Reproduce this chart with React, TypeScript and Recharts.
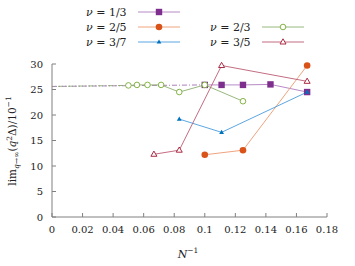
import { LineChart, Line, XAxis, YAxis } from "recharts";

// N^-1 values and limits per filling factor
const nu13X = [0.1, 0.111, 0.125, 0.143, 0.167];
const nu13Y = [25.9, 25.9, 25.9, 26.0, 24.5];
const nu25X = [0.1, 0.125, 0.167];
const nu25Y = [12.2, 13.1, 29.7];
const nu37X = [0.0833, 0.111, 0.167];
const nu37Y = [19.2, 16.6, 24.5];
const nu23X = [0.05, 0.0556, 0.0625, 0.0714, 0.0833, 0.1, 0.125];
const nu23Y = [25.8, 25.9, 25.9, 25.9, 24.5, 25.9, 22.7];
const nu35X = [0.0667, 0.0833, 0.111, 0.167];
const nu35Y = [12.3, 13.1, 29.7, 26.6];
// extrapolations to N^-1 = 0
const ext13X = [0, 0.1];
const ext13Y = [25.6, 25.9];
const ext23X = [0, 0.05];
const ext23Y = [25.6, 25.8];

const xTicks = [0, 0.02, 0.04, 0.06, 0.08, 0.1, 0.12, 0.14, 0.16, 0.18];
const yTicks = [0, 5, 10, 15, 20, 25, 30];

const zip = (xs: number[], ys: number[]) => xs.map((x, i) => ({ x, y: ys[i] }));

const FONT = "'DejaVu Serif', serif";
const AXIS = "#808080";

type Marker = "square" | "circle" | "triangle" | "ocircle" | "otriangle";

const drawMarker = (kind: Marker, cx: number, cy: number, color: string, key?: any) => {
    if (kind === "square")
        return <rect key={key} x={cx - 3.2} y={cy - 3.2} width={6.4} height={6.4} fill={color} />;
    if (kind === "circle")
        return <circle key={key} cx={cx} cy={cy} r={3.3} fill={color} />;
    if (kind === "ocircle")
        return <circle key={key} cx={cx} cy={cy} r={2.8} fill="white" stroke={color} strokeWidth={0.9} />;
    if (kind === "triangle")
        return <path key={key} d={`M${cx},${cy - 2.6} L${cx + 2.4},${cy + 1.6} L${cx - 2.4},${cy + 1.6} Z`} fill={color} />;
    return (
        <path key={key} d={`M${cx},${cy - 3.2} L${cx + 3},${cy + 2} L${cx - 3},${cy + 2} Z`}
            fill="white" stroke={color} strokeWidth={0.9} />
    );
};

const series = [
    { name: "1/3", xs: nu13X, ys: nu13Y, line: "#b07cc0", color: "#7E2F8E", marker: "square" as Marker },
    { name: "2/5", xs: nu25X, ys: nu25Y, line: "#ec9a70", color: "#D95319", marker: "circle" as Marker },
    { name: "3/7", xs: nu37X, ys: nu37Y, line: "#4a9cdc", color: "#0072BD", marker: "triangle" as Marker },
    { name: "2/3", xs: nu23X, ys: nu23Y, line: "#8cb070", color: "#77AC30", marker: "ocircle" as Marker },
    { name: "3/5", xs: nu35X, ys: nu35Y, line: "#bc5c74", color: "#A2142F", marker: "otriangle" as Marker },
];

// legend slots: [column, row]
const legendSlots = [[0, 0], [0, 1], [0, 2], [1, 1], [1, 2]];

const tickStyle = { fill: "#222", fontSize: 10, fontFamily: FONT };

export default function App() {
    return (
        <div style={{ position: "absolute", left: 0, top: 0, width: 355, height: 266, background: "white", fontFamily: FONT }}>
            <LineChart width={355} height={266} margin={{ top: 64, right: 28, left: 0, bottom: 0 }}>
                <XAxis
                    type="number"
                    dataKey="x"
                    domain={[0, 0.18]}
                    ticks={xTicks}
                    allowDataOverflow
                    height={49}
                    tickSize={-4}
                    tickMargin={13}
                    stroke={AXIS}
                    tick={tickStyle}
                    tickFormatter={(v) => String(v)}
                />
                <XAxis
                    xAxisId="top"
                    orientation="top"
                    type="number"
                    dataKey="x"
                    domain={[0, 0.18]}
                    ticks={xTicks}
                    height={0}
                    tickSize={-4}
                    stroke={AXIS}
                    tickFormatter={() => ""}
                />
                <YAxis
                    type="number"
                    domain={[0, 30]}
                    ticks={yTicks}
                    width={52}
                    tickSize={-4}
                    tickMargin={13}
                    stroke={AXIS}
                    tick={tickStyle}
                />
                <YAxis
                    yAxisId="right"
                    orientation="right"
                    type="number"
                    domain={[0, 30]}
                    ticks={yTicks}
                    width={0}
                    tickSize={-4}
                    stroke={AXIS}
                    tickFormatter={() => ""}
                />
                <Line data={zip(ext13X, ext13Y)} dataKey="y" stroke="#a070b0" strokeWidth={0.9}
                    strokeDasharray="5 2 1 2" dot={false} isAnimationActive={false} />
                <Line data={zip(ext23X, ext23Y)} dataKey="y" stroke="#8aa870" strokeWidth={0.9}
                    strokeDasharray="5 2 1 2" strokeDashoffset={4} dot={false} isAnimationActive={false} />
                {series.map((s) => (
                    <Line
                        key={s.name}
                        data={zip(s.xs, s.ys)}
                        dataKey="y"
                        stroke={s.line}
                        strokeWidth={0.9}
                        isAnimationActive={false}
                        dot={(p: any) => drawMarker(s.marker, p.cx, p.cy, s.color, p.index)}
                        activeDot={false}
                    />
                ))}
            </LineChart>
            <svg width={355} height={266} style={{ position: "absolute", left: 0, top: 0, pointerEvents: "none" }}
                fontFamily={FONT} fill="#222">
                {series.map((s, i) => {
                    const [col, row] = legendSlots[i];
                    const tx = col === 0 ? 86 : 210;
                    const ly = 12 + row * 15;
                    const lx = tx + 52;
                    return (
                        <g key={s.name}>
                            <text x={tx} y={ly + 4} fontSize={11}>
                                <tspan fontStyle="italic">ν</tspan> = {s.name}
                            </text>
                            <line x1={lx} x2={lx + 42} y1={ly} y2={ly} stroke={s.line} strokeWidth={0.9} />
                            {drawMarker(s.marker, lx + 21, ly, s.color)}
                        </g>
                    );
                })}
                <text x={188} y={258} fontSize={11} textAnchor="middle">
                    <tspan fontStyle="italic">N</tspan>
                    <tspan fontSize={7.5} dy={-5}>−1</tspan>
                </text>
                <text transform="translate(16,141) rotate(-90)" fontSize={10.5} textAnchor="middle">
                    lim
                    <tspan fontSize={7.5} dy={3} fontStyle="italic">q</tspan>
                    <tspan fontSize={7.5}>→∞</tspan>
                    <tspan dy={-3}>(</tspan>
                    <tspan fontStyle="italic">q</tspan>
                    <tspan fontSize={7.5} dy={-4}>2</tspan>
                    <tspan dy={4}>Δ)/10</tspan>
                    <tspan fontSize={7.5} dy={-5}>−1</tspan>
                </text>
            </svg>
        </div>
    );
}
